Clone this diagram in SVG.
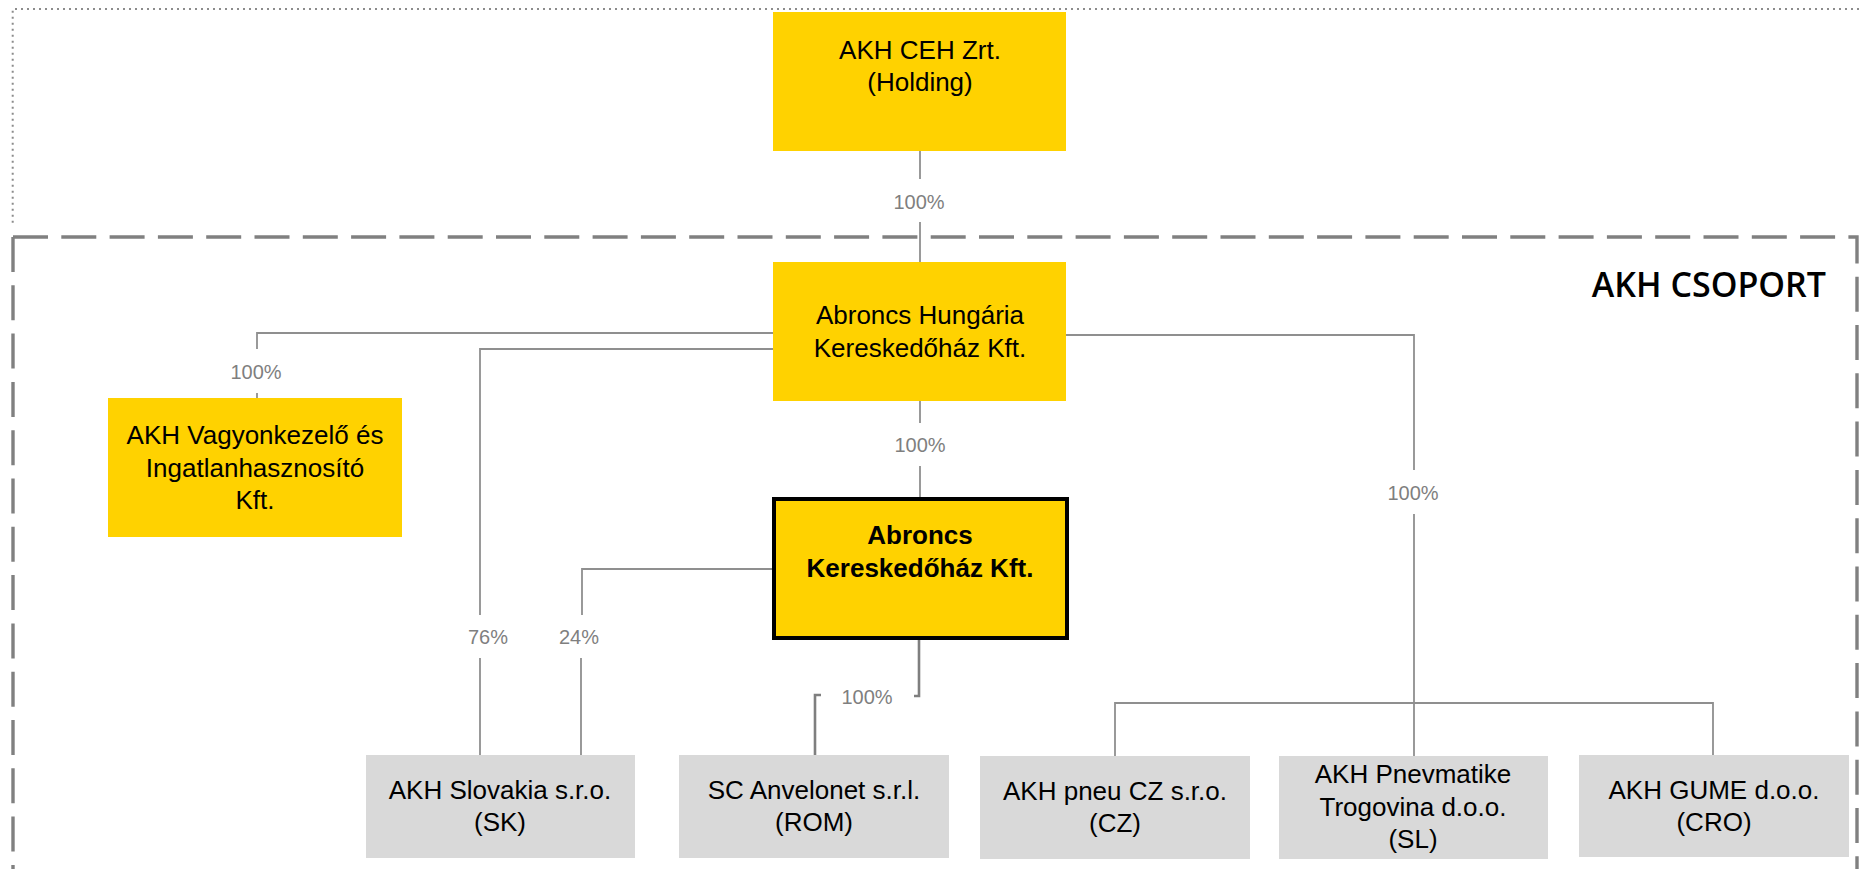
<svg xmlns="http://www.w3.org/2000/svg" width="1859" height="869" viewBox="0 0 1859 869">
<style>
.y{fill:#ffd200}
.g{fill:#d9d9d9}
.t{font-family:"Liberation Sans",Arial,sans-serif;font-size:26px;fill:#000;text-anchor:middle}
.b{font-weight:bold}
.p{font-family:"Liberation Sans",Arial,sans-serif;font-size:20px;fill:#7f7f7f;text-anchor:middle}
.c{fill:none;stroke:#8f8f8f;stroke-width:1.8}
.ct{fill:none;stroke:#7f7f7f;stroke-width:2.6}
</style>
<rect width="1859" height="869" fill="#fff"/>
<g id="frames">
<path d="M1859 9 H12.7 V226" fill="none" stroke="#8c8c8c" stroke-width="2" stroke-dasharray="2 4"/>
<path d="M13 237 H1857 V869" fill="none" stroke="#808080" stroke-width="3.4" stroke-dasharray="35 13.3"/>
<path d="M13 237 V869" fill="none" stroke="#808080" stroke-width="3.4" stroke-dasharray="35 13.3"/>
<text x="1826" y="297" font-family="'Open Sans','Noto Sans',sans-serif" font-size="34" font-weight="600" text-anchor="end" fill="#000">AKH CSOPORT</text>
</g>
<g id="connectors">
<path class="c" d="M920 151 V179 M920 222 V262"/>
<text class="p" x="919" y="209">100%</text>
<path class="c" d="M773 333 H257 V349 M257 393 V398"/>
<text class="p" x="256" y="379">100%</text>
<path class="c" d="M773 349 H480 V615 M480 658 V755"/>
<text class="p" x="488" y="644">76%</text>
<path class="c" d="M772 569 H582 V615 M581 658 V755"/>
<text class="p" x="579" y="644">24%</text>
<path class="c" d="M920 401 V423 M920 466 V497"/>
<text class="p" x="920" y="452">100%</text>
<path class="ct" d="M919 640 V696 H914 M821 695 H815 V755"/>
<text class="p" x="867" y="704">100%</text>
<path class="c" d="M1066 335 H1414 V470 M1414 514 V756"/>
<text class="p" x="1413" y="500">100%</text>
<path class="c" d="M1115 756 V703 H1713 V755"/>
</g>
<g id="ceh">
<rect class="y" x="773" y="12" width="293" height="139"/>
<text class="t" x="920" y="59">AKH CEH Zrt.</text>
<text class="t" x="920" y="91">(Holding)</text>
</g>
<g id="hungaria">
<rect class="y" x="773" y="262" width="293" height="139"/>
<text class="t" x="920" y="324">Abroncs Hungária</text>
<text class="t" x="920" y="357">Kereskedőház Kft.</text>
</g>
<g id="vagyonkezelo">
<rect class="y" x="108" y="398" width="294" height="139"/>
<text class="t" x="255" y="444">AKH Vagyonkezelő és</text>
<text class="t" x="255" y="477">Ingatlanhasznosító</text>
<text class="t" x="255" y="509">Kft.</text>
</g>
<g id="abroncs">
<rect class="y" x="774" y="499" width="293" height="139" stroke="#000" stroke-width="4"/>
<text class="t b" x="920" y="544">Abroncs</text>
<text class="t b" x="920" y="577">Kereskedőház Kft.</text>
</g>
<g id="slovakia">
<rect class="g" x="366" y="755" width="269" height="103"/>
<text class="t" x="500" y="799">AKH Slovakia s.r.o.</text>
<text class="t" x="500" y="831">(SK)</text>
</g>
<g id="anvelonet">
<rect class="g" x="679" y="755" width="270" height="103"/>
<text class="t" x="814" y="799">SC Anvelonet s.r.l.</text>
<text class="t" x="814" y="831">(ROM)</text>
</g>
<g id="pneucz">
<rect class="g" x="980" y="756" width="270" height="103"/>
<text class="t" x="1115" y="800">AKH pneu CZ s.r.o.</text>
<text class="t" x="1115" y="832">(CZ)</text>
</g>
<g id="pnevmatike">
<rect class="g" x="1279" y="756" width="269" height="103"/>
<text class="t" x="1413" y="783">AKH Pnevmatike</text>
<text class="t" x="1413" y="816">Trogovina d.o.o.</text>
<text class="t" x="1413" y="848">(SL)</text>
</g>
<g id="gume">
<rect class="g" x="1579" y="755" width="270" height="102"/>
<text class="t" x="1714" y="799">AKH GUME d.o.o.</text>
<text class="t" x="1714" y="831">(CRO)</text>
</g>
</svg>
